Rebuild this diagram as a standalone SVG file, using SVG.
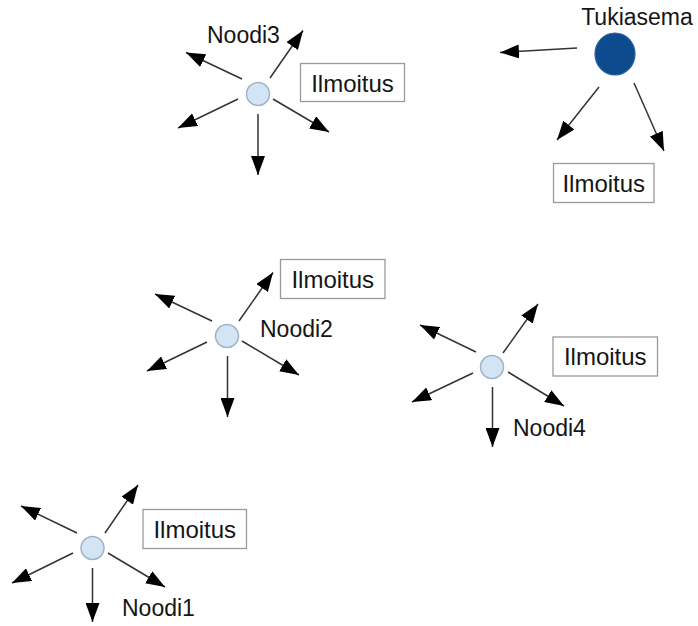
<svg xmlns="http://www.w3.org/2000/svg" width="698" height="626" viewBox="0 0 698 626">
  <style>
    .lbl { font-family: "Liberation Sans", Arial, sans-serif; font-size: 23px; fill: #151515; }
    .msg { font-size: 24px; }
    .box { fill: #fff; stroke: #9a9a9a; stroke-width: 1.3; }
    .node { fill: #d3e5f5; stroke: #9fb4c8; stroke-width: 1.5; }
    .base { fill: #0d4a8e; stroke: #2a5f9a; stroke-width: 1.2; }
    .edge { stroke: #333; stroke-width: 1.5; fill: none; marker-end: url(#arrow); }
  </style>
  <defs>
    <marker id="arrow" markerUnits="userSpaceOnUse" markerWidth="19" markerHeight="14" refX="19" refY="7" orient="auto">
      <path d="M0,0 L19,7 L0,14 z" fill="#000"/>
    </marker>
  </defs>
  <rect width="698" height="626" fill="#fff"/>

  <g id="connectors">
    <!-- Tukiasema -->
    <line class="edge" x1="577" y1="48" x2="500" y2="52.5"/>
    <line class="edge" x1="599" y1="87" x2="557" y2="140"/>
    <line class="edge" x1="634" y1="83" x2="664" y2="151"/>
    <!-- Noodi3 -->
    <line class="edge" x1="270" y1="78" x2="303" y2="30.5"/>
    <line class="edge" x1="242" y1="79" x2="186" y2="52.5"/>
    <line class="edge" x1="238" y1="99" x2="178" y2="128"/>
    <line class="edge" x1="273" y1="99" x2="329" y2="132"/>
    <line class="edge" x1="258" y1="114" x2="258" y2="175"/>
    <!-- Noodi2 -->
    <line class="edge" x1="239" y1="321" x2="273" y2="272.5"/>
    <line class="edge" x1="212" y1="321" x2="155" y2="294"/>
    <line class="edge" x1="207" y1="342" x2="147" y2="371"/>
    <line class="edge" x1="242" y1="341" x2="299" y2="375"/>
    <line class="edge" x1="227.5" y1="356" x2="227.5" y2="417"/>
    <!-- Noodi4 -->
    <line class="edge" x1="503" y1="353" x2="538" y2="304"/>
    <line class="edge" x1="476" y1="352" x2="420" y2="325"/>
    <line class="edge" x1="473" y1="373" x2="412" y2="402"/>
    <line class="edge" x1="508" y1="372" x2="564" y2="406"/>
    <line class="edge" x1="492.5" y1="387" x2="492.5" y2="447"/>
    <!-- Noodi1 -->
    <line class="edge" x1="105" y1="533" x2="138" y2="485"/>
    <line class="edge" x1="77" y1="533" x2="21" y2="506"/>
    <line class="edge" x1="73" y1="553" x2="12" y2="583"/>
    <line class="edge" x1="108" y1="553" x2="165" y2="587"/>
    <line class="edge" x1="92.5" y1="568" x2="92.5" y2="622"/>
  </g>

  <g id="tukiasema">
    <ellipse class="base" cx="615" cy="54" rx="20" ry="21"/>
    <text class="lbl" x="637" y="25" text-anchor="middle">Tukiasema</text>
  </g>
  <g id="ilmoitus-tukiasema">
    <rect class="box" x="553.5" y="163.5" width="100.5" height="39"/>
    <text class="lbl msg" x="603.75" y="191.5" text-anchor="middle">Ilmoitus</text>
  </g>

  <g id="noodi3">
    <circle class="node" cx="258" cy="94" r="11.5"/>
    <text class="lbl" x="207" y="43">Noodi3</text>
  </g>
  <g id="ilmoitus-noodi3">
    <rect class="box" x="300.5" y="63.5" width="104" height="38"/>
    <text class="lbl msg" x="352.5" y="91.5" text-anchor="middle">Ilmoitus</text>
  </g>

  <g id="noodi2">
    <circle class="node" cx="227" cy="336" r="11.5"/>
    <text class="lbl" x="260" y="337">Noodi2</text>
  </g>
  <g id="ilmoitus-noodi2">
    <rect class="box" x="280.5" y="259.5" width="104.5" height="39"/>
    <text class="lbl msg" x="332.75" y="287.5" text-anchor="middle">Ilmoitus</text>
  </g>

  <g id="noodi4">
    <circle class="node" cx="492" cy="367" r="11.5"/>
    <text class="lbl" x="513" y="436">Noodi4</text>
  </g>
  <g id="ilmoitus-noodi4">
    <rect class="box" x="553" y="337" width="104.5" height="39"/>
    <text class="lbl msg" x="605.25" y="365" text-anchor="middle">Ilmoitus</text>
  </g>

  <g id="noodi1">
    <circle class="node" cx="92.5" cy="548" r="11.5"/>
    <text class="lbl" x="122" y="616">Noodi1</text>
  </g>
  <g id="ilmoitus-noodi1">
    <rect class="box" x="143" y="509.5" width="103.5" height="39"/>
    <text class="lbl msg" x="194.75" y="537.5" text-anchor="middle">Ilmoitus</text>
  </g>
</svg>
